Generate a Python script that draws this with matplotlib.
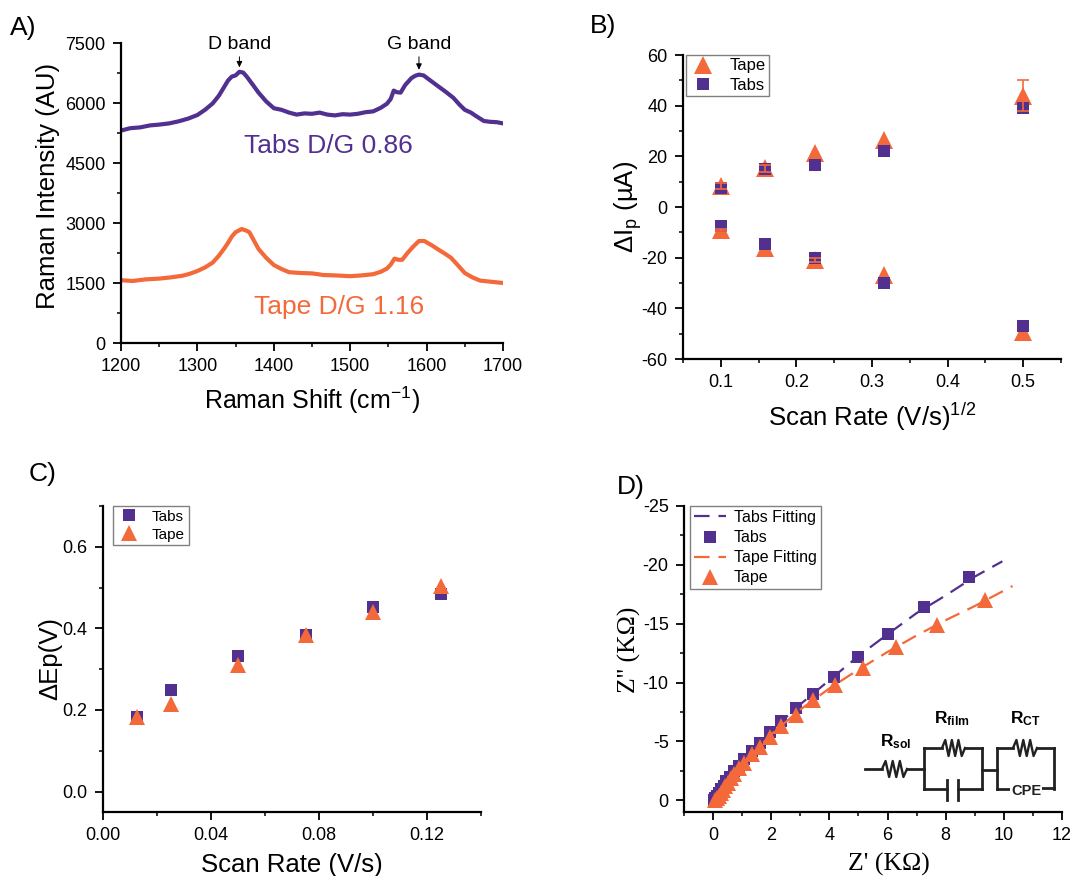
import matplotlib
matplotlib.use("Agg")
import matplotlib.pyplot as plt
from matplotlib.ticker import MultipleLocator

plt.rcParams["font.family"] = ["Liberation Sans", "DejaVu Sans"]
plt.rcParams["mathtext.fontset"] = "custom"
plt.rcParams["mathtext.rm"] = "Liberation Sans"
plt.rcParams["mathtext.bf"] = "Liberation Sans:bold"
plt.rcParams["mathtext.default"] = "regular"
plt.rcParams["axes.unicode_minus"] = False

W, H = 1070, 876
PURPLE = "#52308f"
ORANGE = "#f4693a"

# A) Raman
raman_x_tabs = [1200, 1212, 1225, 1238, 1250, 1263, 1275, 1288, 1300, 1310, 1320, 1328, 1335, 1340, 1345,
                1350, 1355, 1360, 1365, 1372, 1380, 1390, 1400, 1410, 1420, 1430, 1440, 1450, 1460, 1470,
                1480, 1490, 1500, 1510, 1520, 1530, 1540, 1548, 1553, 1557, 1561, 1566, 1572, 1580, 1585,
                1590, 1596, 1603, 1615, 1625, 1635, 1643, 1650, 1658, 1665, 1675, 1683, 1692, 1700]
raman_y_tabs = [5310, 5370, 5390, 5440, 5460, 5490, 5540, 5610, 5700, 5830, 5990, 6180, 6400, 6560, 6660,
                6690, 6780, 6760, 6650, 6470, 6260, 6040, 5870, 5830, 5760, 5710, 5740, 5730, 5760, 5710,
                5690, 5720, 5710, 5730, 5770, 5790, 5880, 5980, 6100, 6310, 6270, 6260, 6450, 6620, 6680,
                6710, 6690, 6590, 6420, 6280, 6130, 5960, 5830, 5760, 5670, 5550, 5530, 5520, 5490]
raman_x_tape = [1200, 1215, 1232, 1250, 1265, 1280, 1290, 1300, 1310, 1320, 1328, 1335, 1340, 1345, 1350,
                1358, 1364, 1368, 1374, 1380, 1390, 1400, 1410, 1420, 1435, 1450, 1465, 1480, 1500, 1515,
                1530, 1540, 1548, 1553, 1558, 1563, 1568, 1575, 1582, 1590, 1597, 1607, 1615, 1625, 1632,
                1642, 1650, 1660, 1670, 1685, 1700]
raman_y_tape = [1570, 1550, 1590, 1610, 1640, 1680, 1730, 1800, 1890, 2010, 2180, 2360, 2500, 2660, 2770,
                2850, 2810, 2770, 2560, 2350, 2130, 1950, 1850, 1770, 1750, 1740, 1700, 1690, 1670, 1690,
                1720, 1780, 1860, 1960, 2110, 2080, 2080, 2250, 2400, 2550, 2550, 2440, 2340, 2220, 2130,
                1920, 1750, 1640, 1560, 1530, 1500]

# B) peak current
rate_sqrt = [0.1, 0.158, 0.224, 0.316, 0.5]
tape_ox = [8.2, 15.2, 21.5, 26.5, 44.0]
tape_ox_err = [1.2, 1.2, 0, 0, 6.3]
tape_red = [-9.0, -16.0, -21.0, -27.0, -49.5]
tape_red_err = [0.4, 0, 0.7, 0, 0]
tabs_ox = [7.5, 15.0, 16.5, 22.0, 39.0]
tabs_ox_err = [1.2, 1.5, 1.0, 1.6, 1.5]
tabs_red = [-7.5, -14.5, -20.0, -30.0, -47.0]
tabs_red_err = [1.2, 1.0, 1.2, 1.0, 1.0]

# C) peak separation
rate = [0.0125, 0.025, 0.05, 0.075, 0.1, 0.125]
dep_tabs = [0.182, 0.248, 0.332, 0.385, 0.452, 0.484]
dep_tape = [0.183, 0.215, 0.310, 0.383, 0.440, 0.503]

# D) Nyquist
z_re_tabs = [8.8, 7.25, 6.0, 5.0, 4.15, 3.45, 2.85, 2.35, 1.95, 1.6, 1.33, 1.08, 0.88, 0.72, 0.58, 0.46,
             0.36, 0.28, 0.2, 0.13, 0.07, 0.02]
z_im_tabs = [-19.0, -16.4, -14.15, -12.2, -10.5, -9.05, -7.8, -6.7, -5.8, -4.9, -4.15, -3.5, -2.95, -2.45,
             -2.0, -1.6, -1.25, -0.95, -0.65, -0.4, -0.2, -0.05]
z_re_tape = [9.35, 7.7, 6.3, 5.15, 4.2, 3.45, 2.85, 2.35, 1.95, 1.6, 1.33, 1.08, 0.88, 0.72, 0.6, 0.5,
             0.42, 0.35, 0.28, 0.22, 0.15, 0.05]
z_im_tape = [-17.0, -14.9, -13.0, -11.25, -9.8, -8.5, -7.25, -6.3, -5.35, -4.5, -3.9, -3.2, -2.7, -2.25,
             -1.85, -1.5, -1.2, -0.9, -0.6, -0.35, -0.15, -0.02]
fit_re_tabs = [0.0, 0.5, 1.0, 2.0, 3.0, 4.0, 5.0, 6.0, 7.0, 8.0, 9.0, 9.95]
fit_im_tabs = [0.0, -1.8, -3.3, -5.9, -8.15, -10.2, -12.25, -14.1, -15.9, -17.4, -19.0, -20.3]
fit_re_tape = [0.2, 0.6, 1.0, 2.0, 3.0, 4.0, 5.0, 6.0, 7.0, 8.0, 9.0, 10.3]
fit_im_tape = [0.0, -1.7, -3.0, -5.6, -7.7, -9.5, -11.1, -12.6, -14.0, -15.3, -16.5, -18.2]


def make_axes(x0, x1, y0, y1):
    # pixel box of the plot area, y measured from the top of the image
    ax = fig.add_axes([x0 / W, 1 - y1 / H, (x1 - x0) / W, (y1 - y0) / H])
    ax.spines[["top", "right"]].set_visible(False)
    ax.spines[["left", "bottom"]].set_linewidth(1.6)
    ax.tick_params(which="major", direction="out", length=6, width=1.3, labelsize=13, pad=5)
    ax.tick_params(which="minor", direction="out", length=3, width=1.1)
    return ax


def set_ticks(ax, xmaj, xmin, ymaj, ymin):
    ax.xaxis.set_major_locator(MultipleLocator(xmaj))
    ax.xaxis.set_minor_locator(MultipleLocator(xmin))
    ax.yaxis.set_major_locator(MultipleLocator(ymaj))
    ax.yaxis.set_minor_locator(MultipleLocator(ymin))


def place_legend(ax, x0, y0, size, **kw):
    leg = ax.legend(loc="upper left", bbox_to_anchor=(x0 / W, 1 - y0 / H), bbox_transform=fig.transFigure,
                    borderaxespad=0, fancybox=False, framealpha=1, edgecolor="#808080", fontsize=size, **kw)
    leg.get_frame().set_linewidth(1.0)
    return leg


def nonzero(xs, ys, errs):
    keep = [i for i, e in enumerate(errs) if e > 0]
    return [xs[i] for i in keep], [ys[i] for i in keep], [errs[i] for i in keep]


fig = plt.figure(figsize=(W / 100, H / 100), dpi=100)

# --- A ---
ax = make_axes(121, 503, 43, 343)
ax.plot(raman_x_tabs, raman_y_tabs, color=PURPLE, lw=3)
ax.plot(raman_x_tape, raman_y_tape, color=ORANGE, lw=3)
ax.set_xlim(1200, 1700)
ax.set_ylim(0, 7500)
set_ticks(ax, 100, 50, 1500, 750)
ax.set_xlabel("Raman Shift (cm$^{-1}$)", fontsize=18, labelpad=7)
ax.set_ylabel("Raman Intensity (AU)", fontsize=18.5, labelpad=4, y=0.525)
ax.annotate("D band", xy=(1355, 6890), xytext=(1355, 7260), ha="center", va="bottom", fontsize=14,
            arrowprops=dict(arrowstyle="-|>,head_width=0.12,head_length=0.25", color="k", lw=0.7, shrinkA=1, shrinkB=0))
ax.annotate("G band", xy=(1590, 6830), xytext=(1590, 7260), ha="center", va="bottom", fontsize=14,
            arrowprops=dict(arrowstyle="-|>,head_width=0.12,head_length=0.25", color="k", lw=0.7, shrinkA=1, shrinkB=0))
ax.text(1472, 4930, "Tabs D/G 0.86", color=PURPLE, fontsize=19, ha="center", va="center")
ax.text(1485, 900, "Tape D/G 1.16", color=ORANGE, fontsize=19, ha="center", va="center")

# --- B ---
ax = make_axes(683, 1061, 55, 359)
ax.plot(rate_sqrt + rate_sqrt, tape_ox + tape_red, "^", color=ORANGE, ms=12.5, mew=0, zorder=2, label="Tape",
        clip_on=False)
ax.errorbar(rate_sqrt + rate_sqrt, tabs_ox + tabs_red, yerr=tabs_ox_err + tabs_red_err, fmt="none", ecolor=PURPLE,
            elinewidth=1.2, capsize=3, capthick=1.2, zorder=3)
ax.plot(rate_sqrt + rate_sqrt, tabs_ox + tabs_red, "s", color=PURPLE, ms=8.5, mew=0, zorder=3, label="Tabs",
        clip_on=False)
ex, ey, ee = nonzero(rate_sqrt + rate_sqrt, tape_ox + tape_red, tape_ox_err + tape_red_err)
ax.errorbar(ex, ey, yerr=ee, fmt="none", ecolor=ORANGE, elinewidth=1.2, capsize=4, capthick=1.2, zorder=4)
ax.set_xlim(0.05, 0.55)
ax.set_ylim(-60, 60)
set_ticks(ax, 0.1, 0.05, 20, 10)
ax.set_xlabel("Scan Rate (V/s)$^{1/2}$", fontsize=18.5, labelpad=7)
ax.set_ylabel("ΔI$_{p}$ (µA)", fontsize=18.5, labelpad=-2)
place_legend(ax, 686, 55, 12, labelspacing=0.25, borderpad=0.2, handlelength=1.6, handletextpad=0.8)

# --- C ---
ax = make_axes(103, 481, 506, 812)
ax.plot(rate, dep_tabs, "s", color=PURPLE, ms=8.5, mew=0, label="Tabs")
ax.plot(rate, dep_tape, "^", color=ORANGE, ms=11.5, mew=0, label="Tape")
ax.set_xlim(0, 0.14)
ax.set_ylim(-0.05, 0.7)
set_ticks(ax, 0.04, 0.02, 0.2, 0.1)
ax.set_xlabel("Scan Rate (V/s)", fontsize=18.5, labelpad=6)
ax.set_ylabel("ΔEp(V)", fontsize=18.5, labelpad=0)
place_legend(ax, 113, 506, 11, labelspacing=0.25, borderpad=0.25, handlelength=1.6, handletextpad=0.7)

# --- D ---
ax = make_axes(684, 1062, 506, 812)
ax.plot(fit_re_tabs, fit_im_tabs, color=PURPLE, lw=1.6, dashes=(7, 4), label="Tabs Fitting", zorder=2)
ax.plot(z_re_tabs, z_im_tabs, "s", color=PURPLE, ms=8.5, mew=0, label="Tabs", zorder=3)
ax.plot(fit_re_tape, fit_im_tape, color=ORANGE, lw=1.6, dashes=(7, 4), label="Tape Fitting", zorder=4)
ax.plot(z_re_tape, z_im_tape, "^", color=ORANGE, ms=11.5, mew=0, label="Tape", zorder=5)
ax.set_xlim(-1, 12)
ax.set_ylim(1, -25)
set_ticks(ax, 2, 1, 5, 2.5)
ax.set_xlabel("Z' (KΩ)", fontsize=18.5, family="Liberation Serif", labelpad=6, x=0.542)
ax.set_ylabel("Z'' (KΩ)", fontsize=18.5, family="Liberation Serif", labelpad=1, y=0.53)
place_legend(ax, 690, 506, 11.5, labelspacing=0.32, borderpad=0.25, handlelength=2.0, handletextpad=0.5)

# panel letters
for label, px, py in [("A)", 10, 28), ("B)", 590, 26), ("C)", 29, 474), ("D)", 617, 487)]:
    fig.text(px / W, 1 - py / H, label, fontsize=19, va="center")

# circuit sketch, in image pixels
sk = fig.add_axes([0, 0, 1, 1], facecolor="none")
sk.set_xlim(0, W)
sk.set_ylim(H, 0)
sk.axis("off")


def resistor(x0, x1, y):
    xs = [x0 + (x1 - x0) * i / 7 for i in range(8)]
    ys = [y, y - 8, y + 8, y - 8, y + 8, y - 8, y + 8, y]
    sk.plot(xs, ys, color="#222222", lw=1.7)


wires = [([865, 882], [769, 769]), ([907, 924], [769, 769]), ([924, 924], [748, 789]),
         ([924, 942], [748, 748]), ([965, 982], [748, 748]), ([924, 947], [789, 789]),
         ([958, 982], [789, 789]), ([982, 982], [748, 789]), ([947, 947], [780, 800]),
         ([958, 958], [780, 800]), ([982, 997], [770, 770]), ([997, 997], [748, 789]),
         ([997, 1013], [748, 748]), ([1037, 1054], [748, 748]), ([1054, 1054], [748, 789]),
         ([997, 1012], [789, 789]), ([1041, 1054], [788, 788])]
for xs, ys in wires:
    sk.plot(xs, ys, color="#222222", lw=2)
resistor(882, 907, 769)
resistor(942, 965, 748)
resistor(1013, 1037, 748)
sk.text(1026, 791, "CPE", fontsize=10.5, fontweight="bold", ha="center", va="center", color="#222222",
        bbox=dict(fc="white", ec="none", pad=0.5))
sk.text(896, 742, r"$\mathbf{R_{sol}}$", fontsize=12.5, ha="center", va="center")
sk.text(952, 719, r"$\mathbf{R_{film}}$", fontsize=12.5, ha="center", va="center")
sk.text(1025, 719, r"$\mathbf{R_{CT}}$", fontsize=12.5, ha="center", va="center")

fig.savefig("out.png", dpi=100)
